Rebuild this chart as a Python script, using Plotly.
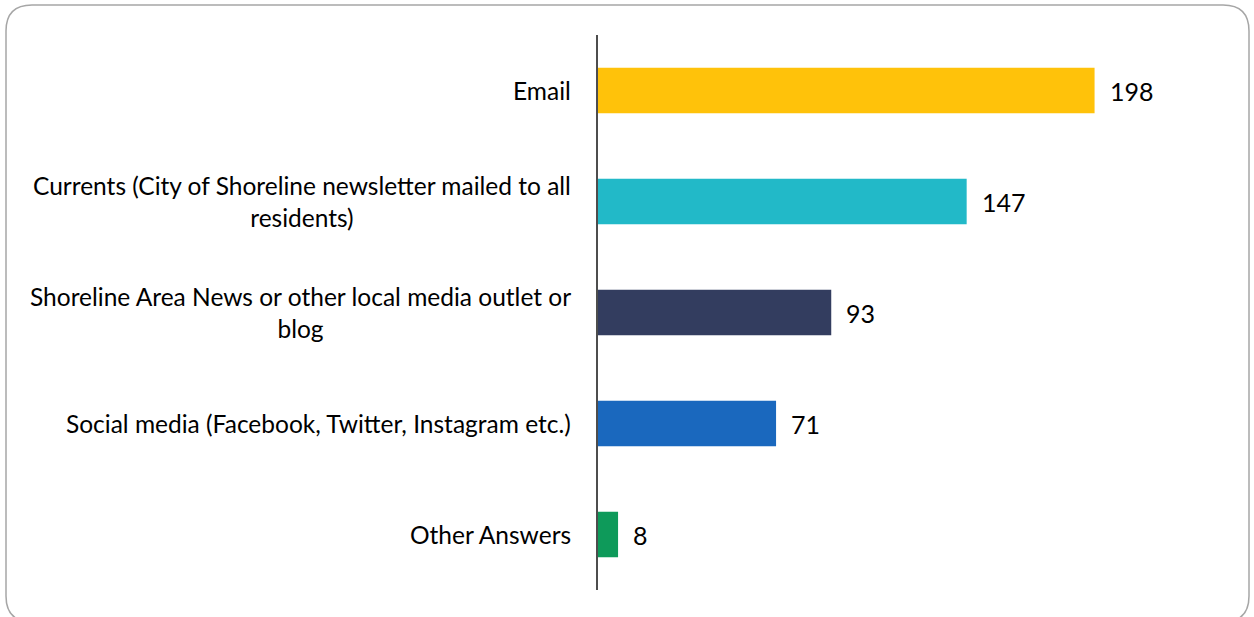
import plotly.graph_objects as go

categories = [
    "Email",
    "Currents (City of Shoreline newsletter mailed to all<br>residents)",
    "Shoreline Area News or other local media outlet or<br>blog",
    "Social media (Facebook, Twitter, Instagram etc.)",
    "Other Answers",
]
values = [198, 147, 93, 71, 8]
colors = ["#FFC20A", "#22B9C8", "#333D5F", "#1A68BE", "#0E9A5A"]

W, H = 1254, 617
L, R, T, B = 598, 24, 35, 27
pw, ph = W - L - R, H - T - B

fig = go.Figure()
fig.add_trace(go.Bar(
    y=categories, x=values, orientation="h",
    marker=dict(color=colors, line=dict(width=0)),
    width=0.41, hoverinfo="skip",
))

font_family = "Lato, 'Open Sans', sans-serif"
annotations = []
for c, v in zip(categories, values):
    annotations.append(dict(
        x=0, y=c, xref="paper", yref="y", text=c, showarrow=False,
        xanchor="right", yanchor="middle", align="center", xshift=-25,
        font=dict(family=font_family, size=24.5, color="#000000"),
    ))
    annotations.append(dict(
        x=v, y=c, xref="x", yref="y", text=str(v), showarrow=False,
        xanchor="left", yanchor="middle", xshift=13,
        font=dict(family=font_family, size=25, color="#000000"),
    ))

def px(x):
    return (x - L) / pw

def py(y):
    return 1 - (y - T) / ph

x0, x1, y0, y1, r = 6, 1249, 5, 622, 26
path = (
    f"M {px(x0 + r)},{py(y0)} L {px(x1 - r)},{py(y0)} "
    f"Q {px(x1)},{py(y0)} {px(x1)},{py(y0 + r)} "
    f"L {px(x1)},{py(y1 - r)} Q {px(x1)},{py(y1)} {px(x1 - r)},{py(y1)} "
    f"L {px(x0 + r)},{py(y1)} Q {px(x0)},{py(y1)} {px(x0)},{py(y1 - r)} "
    f"L {px(x0)},{py(y0 + r)} Q {px(x0)},{py(y0)} {px(x0 + r)},{py(y0)} Z"
)

fig.update_layout(
    width=W, height=H,
    margin=dict(l=L, r=R, t=T, b=B),
    paper_bgcolor="white", plot_bgcolor="white",
    showlegend=False,
    bargap=0.59,
    xaxis=dict(range=[0, 252], showgrid=False, zeroline=False,
               showticklabels=False, showline=False, fixedrange=True),
    yaxis=dict(autorange="reversed", showgrid=False, zeroline=False,
               showticklabels=False, ticks="", showline=True,
               linecolor="#4D4D4D", linewidth=1.5, fixedrange=True),
    annotations=annotations,
    shapes=[dict(type="path", path=path, xref="paper", yref="paper",
                 line=dict(color="#A6A6A6", width=1.5), layer="below")],
)

fig.write_html(
    "out.html",
    config={"displayModeBar": False},
    post_script="document.body.style.margin='0';document.body.style.overflow='hidden';",
)
